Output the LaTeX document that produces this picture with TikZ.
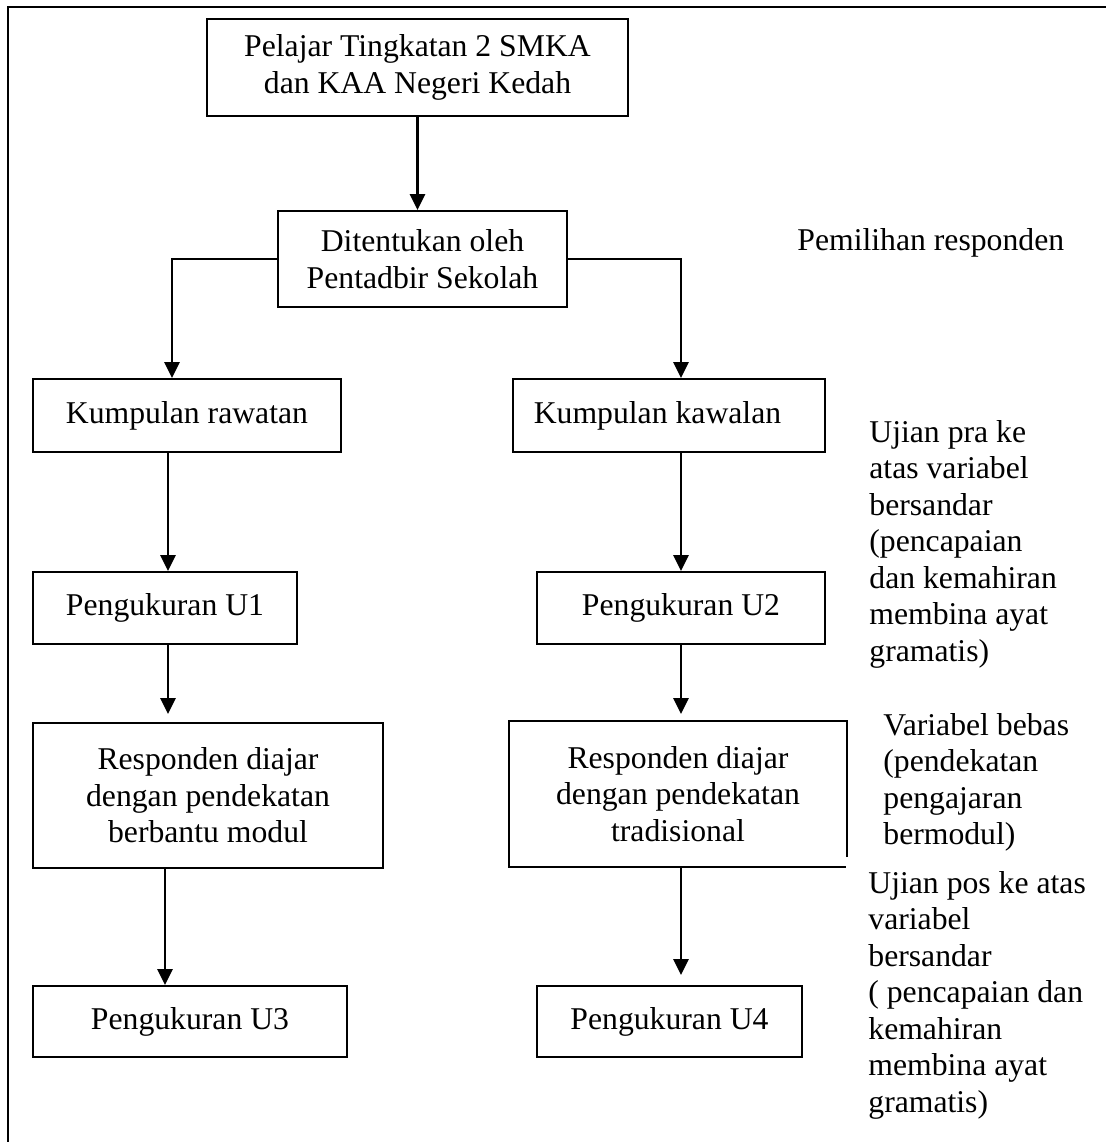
\documentclass[tikz,border=0pt]{standalone}
\usepackage{fontspec}
\setmainfont{Liberation Serif}
\usetikzlibrary{arrows.meta}
\begin{document}
\begin{tikzpicture}[x=0.5pt, y=-0.5pt,
  every node/.style={font=\fontsize{15.85pt}{18.25pt}\selectfont},
  box/.style={draw, line width=1pt, inner sep=0pt, align=center},
  conn/.style={line width=1.4pt, -{Triangle[width=7.5pt,length=8pt]}},
  note/.style={anchor=north west, inner sep=0pt, align=left}]
\useasboundingbox (0,0) rectangle (1106,1142);
\fill[white] (0,0) rectangle (1106,1142);
\draw[line width=1pt] (8,1142) -- (8,7) -- (1106,7);

\node[box, minimum width=210.5pt, minimum height=48.5pt] (top) at (417.5,67.5) {Pelajar Tingkatan 2 SMKA\\dan KAA Negeri Kedah};
\node[box, minimum width=144.5pt, minimum height=48pt] (det) at (422.5,259) {Ditentukan oleh\\Pentadbir Sekolah};
\node[box, minimum width=154pt, minimum height=36.5pt] (raw) at (187,415.5) {Kumpulan rawatan};
\node[box, minimum width=156pt, minimum height=36.5pt] (kaw) at (669,415.5) {Kumpulan kawalan\hspace*{11.5pt}};
\node[box, minimum width=132pt, minimum height=36pt] (u1) at (165,608) {Pengukuran U1};
\node[box, minimum width=144pt, minimum height=36pt] (u2) at (681,608) {Pengukuran U2};
\node[box, minimum width=175pt, minimum height=72.5pt] (resL) at (208,795.5) {Responden diajar\\dengan pendekatan\\berbantu modul};
\node[box, draw=none, minimum width=168pt, minimum height=72pt] (resR) at (678,794) {Responden diajar\\dengan pendekatan\\tradisional};
\draw[line width=1pt] ([yshift=5pt]resR.south east) -- (resR.north east) -- (resR.north west) -- (resR.south west) -- ([xshift=-0.5pt]resR.south east);
\node[box, minimum width=157pt, minimum height=35.5pt] (u3) at (190,1021.5) {Pengukuran U3};
\node[box, minimum width=132.5pt, minimum height=35.5pt] (u4) at (669.5,1021.5) {Pengukuran U4};

\coordinate (bl) at (172,259);
\coordinate (br) at (681,259);
\coordinate (xl) at (168,0);
\coordinate (xl2) at (165,0);
\coordinate (e1) at (168,714);
\coordinate (e2) at (681,714);
\coordinate (e3) at (681,975);

\draw[conn] (top.south) -- (top.south |- det.north);
\draw[conn] (det.west) -- (bl) -- (bl |- raw.north);
\draw[conn] (det.east) -- (br) -- (br |- kaw.north);
\draw[conn] (raw.south -| xl) -- (u1.north -| xl);
\draw[conn] (u1.south -| e1) -- (e1);
\draw[conn] (resL.south -| xl2) -- (u3.north -| xl2);
\draw[conn] (kaw.south -| br) -- (u2.north -| br);
\draw[conn] (u2.south -| br) -- (e2);
\draw[conn] (resR.south -| br) -- (e3);

\node[note] (pem) at (797,224.45) {\strut Pemilihan responden};
\node[note] (pra) at (869,416.45) {\strut Ujian pra ke\\atas variabel\\bersandar\\(pencapaian\\dan kemahiran\\membina ayat\\gramatis)};
\node[note] (beb) at (883,709.45) {\strut Variabel bebas\\(pendekatan\\pengajaran\\bermodul)};
\node[note] (pos) at (868,867.45) {\strut Ujian pos ke atas\\variabel\\bersandar\\( pencapaian dan\\kemahiran\\membina ayat\\gramatis)};
\end{tikzpicture}
\end{document}
